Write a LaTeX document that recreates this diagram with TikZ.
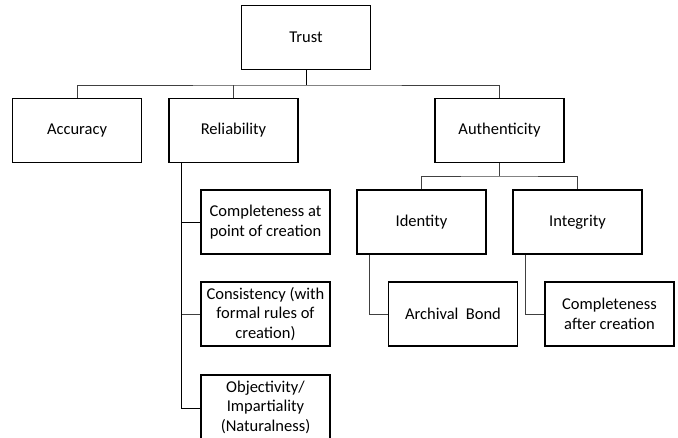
\documentclass[tikz,border=0pt]{standalone}
\usepackage{fontspec}
\setmainfont{Carlito}
\tikzset{
  box/.style={draw, line width=1.5pt, minimum width=129pt, minimum height=64pt,
    align=center, inner sep=1pt, font=\fontsize{16.5}{19.5}\selectfont},
  link/.style={line width=0.9pt, draw=black!75}
}

\begin{document}
\begin{tikzpicture}[x=1pt,y=-1pt]
\useasboundingbox (0,0) rectangle (678,437);

\node[box] (trust) at (306,37.5) {Trust};
\node[box] (acc) at (77,130.5) {Accuracy};
\node[box] (rel) at (233.5,130.5) {Reliability};
\node[box] (auth) at (499.5,130.5) {Authenticity};

\node[box] (ident) at (421.5,222) {Identity};
\node[box] (integ) at (577.5,222) {Integrity};
\node[box] (bond) at (453,314) {Archival\ \ Bond};
\node[box] (after) at (609.5,314) {Completeness\\after creation};

\node[box] (compl) at (265.5,222) {Completeness at\\point of creation};
\node[box] (cons) at (265.5,314) {Consistency (with\\formal rules of\\creation)};
\node[box] (obj) at (265.5,407) {Objectivity/\\Impartiality\\(Naturalness)};

% top level bus
\coordinate (bus) at (306,85);
\draw[link, draw=black] (trust.south) -- (bus);
\draw[link] (acc.north) |- (bus) -| (auth.north);
\draw[link] (rel.north) -- (rel.north |- bus);

% authenticity branch
\coordinate (sub) at (499.5,176);
\draw[link] (auth.south) -- (sub);
\draw[link] (ident.north) |- (sub) -| (integ.north);

% side branches
\coordinate (rtop) at ([xshift=13pt]rel.south west);
\draw[link, draw=black] (rtop) |- (compl.west);
\draw[link] (rtop) |- (cons.west);
\draw[link, draw=black] (rtop) |- ([yshift=-1pt]obj.west);

\coordinate (itop) at ([xshift=13pt]ident.south west);
\draw[link] (itop) |- (bond.west);
\coordinate (gtop) at ([xshift=13pt]integ.south west);
\draw[link] (gtop) |- (after.west);
\end{tikzpicture}
\end{document}
